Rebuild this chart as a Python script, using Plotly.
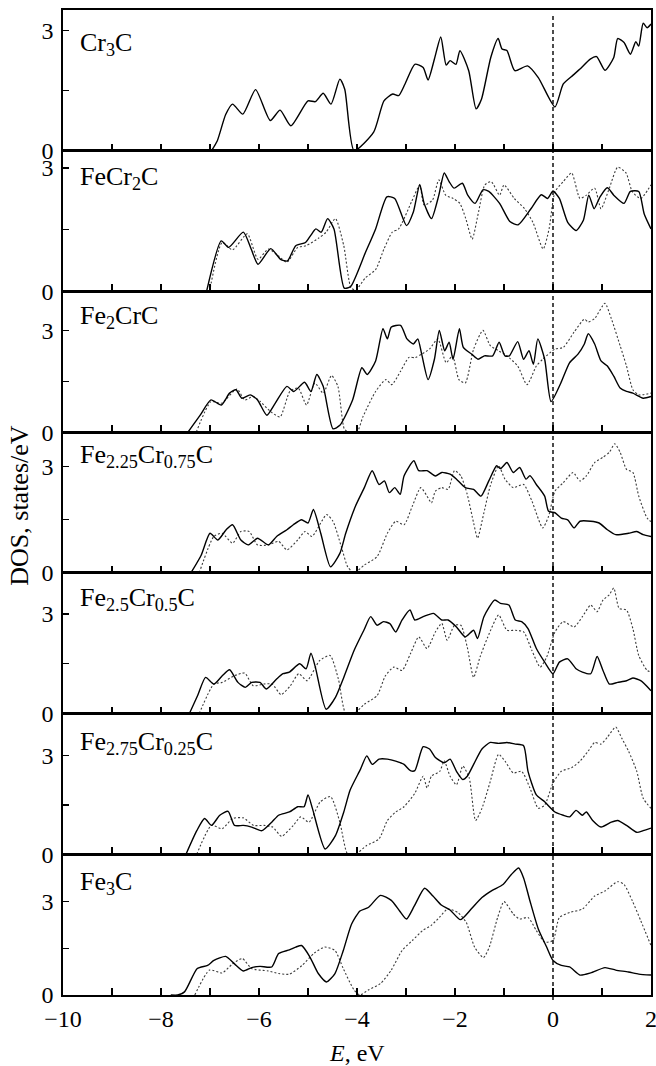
import plotly.graph_objects as go
from plotly.subplots import make_subplots

# ---------------- data ----------------
panel_names = ["Cr<sub>3</sub>C", "FeCr<sub>2</sub>C", "Fe<sub>2</sub>CrC",
               "Fe<sub>2.25</sub>Cr<sub>0.75</sub>C", "Fe<sub>2.5</sub>Cr<sub>0.5</sub>C",
               "Fe<sub>2.75</sub>Cr<sub>0.25</sub>C", "Fe<sub>3</sub>C"]

cr3c_E = [-6.97, -6.85, -6.68, -6.54, -6.33, -6.07, -5.77, -5.57, -5.35, -5.0, -4.85, -4.69, -4.53, -4.35, -4.25, -4.06,
          -3.66, -3.45, -3.27, -3.15, -3.02, -2.82, -2.65, -2.55, -2.42, -2.29, -2.18, -2.1, -1.98, -1.9, -1.72, -1.57,
          -1.46, -1.27, -1.12, -1.04, -0.94, -0.78, -0.52, -0.3, 0.04, 0.21, 0.41, 0.55, 0.76, 0.89, 1.06, 1.24, 1.32,
          1.45, 1.58, 1.69, 1.75, 1.84, 1.92, 2.0]
cr3c_D = [0, 0.25, 0.9, 1.16, 0.91, 1.52, 0.75, 1.01, 0.62, 1.24, 1.22, 1.43, 1.16, 1.78, 1.53, 0,
          0.46, 1.24, 1.41, 1.37, 1.66, 2.15, 2.07, 1.76, 2.28, 2.83, 2.13, 2.24, 2.15, 2.49, 1.99, 1.04,
          1.28, 2.32, 2.79, 2.53, 2.49, 1.99, 2.11, 1.82, 1.09, 1.66, 1.88, 2.03, 2.28, 2.34, 2.0, 2.32, 2.79,
          2.69, 2.4, 2.71, 2.6, 3.17, 3.06, 3.15]

fecr2c_E = [-7.07, -6.77, -6.62, -6.32, -6.16, -6.02, -5.76, -5.56, -5.42, -5.25, -5.05, -4.94, -4.84, -4.73, -4.6,
            -4.47, -4.26, -4.13, -3.83, -3.62, -3.39, -3.23, -2.99, -2.85, -2.72, -2.63, -2.48, -2.33, -2.22, -2.12,
            -2.02, -1.85, -1.74, -1.59, -1.43, -1.31, -1.09, -0.88, -0.71, -0.45, -0.24, -0.11, 0.0, 0.13, 0.3, 0.47,
            0.62, 0.73, 0.84, 0.96, 1.11, 1.24, 1.45, 1.58, 1.75, 1.86, 2.0]
fecr2c_D = [0, 1.23, 1.07, 1.44, 1.03, 0.66, 1.04, 0.78, 0.74, 1.11, 1.19, 1.37, 1.52, 1.44, 1.77,
            1.52, 0.08, 0.12, 0.94, 1.52, 2.30, 2.26, 1.6, 1.93, 2.6, 2.14, 1.77, 2.34, 2.88, 2.67,
            2.51, 2.63, 2.34, 2.14, 2.47, 2.43, 2.14, 1.7, 1.62, 2.01, 2.35, 2.26, 2.44, 2.26, 1.68, 1.48,
            1.73, 2.34, 2.01, 2.30, 2.52, 2.34, 2.14, 2.43, 2.43, 1.89, 1.52]
fecr2c_dot_E = [-7.01, -6.75, -6.54, -6.24, -6.02, -5.81, -5.6, -5.43, -5.21, -5.04, -4.79, -4.63, -4.44, -4.27, -4.12,
                -4.02, -3.83, -3.62, -3.45, -3.28, -3.15, -2.89, -2.72, -2.63, -2.46, -2.33, -2.19, -2.04, -1.9, -1.78,
                -1.65, -1.52, -1.39, -1.26, -1.09, -1.0, -0.79, -0.58, -0.41, -0.2, -0.08, 0.04, 0.21, 0.38, 0.55,
                0.68, 0.85, 0.98, 1.15, 1.32, 1.49, 1.62, 1.79, 2.0]
fecr2c_dot_D = [0, 1.19, 1.01, 1.4, 0.78, 1.03, 0.86, 0.71, 1.07, 1.11, 1.29, 1.44, 1.77, 1.11, 0.08,
                0.04, 0.33, 0.53, 1.03, 1.44, 1.52, 2.17, 2.58, 2.1, 2.22, 2.71, 2.34, 2.26, 2.14, 1.77,
                1.27, 1.93, 2.59, 2.67, 2.34, 2.59, 2.26, 2.01, 1.68, 1.03, 1.52, 2.42, 2.67, 2.88, 2.26,
                2.34, 2.51, 2.01, 2.51, 3.02, 2.88, 2.42, 2.26, 2.59]

fe2crc_E = [-7.45, -7.2, -6.98, -6.77, -6.6, -6.47, -6.35, -6.18, -6.03, -5.84, -5.67, -5.43, -5.29, -5.07, -4.94,
            -4.82, -4.69, -4.49, -4.35, -4.09, -3.9, -3.79, -3.62, -3.47, -3.38, -3.3, -3.11, -2.98, -2.85, -2.76,
            -2.68, -2.55, -2.42, -2.32, -2.21, -2.12, -2.04, -1.91, -1.83, -1.66, -1.53, -1.4, -1.23, -1.1, -0.98,
            -0.89, -0.72, -0.6, -0.49, -0.4, -0.31, -0.17, -0.04, 0.16, 0.34, 0.51, 0.64, 0.72, 0.85, 0.98,
            1.11, 1.24, 1.37, 1.5, 1.63, 1.84, 2.0]
fe2crc_D = [0, 0.5, 0.95, 0.8, 1.15, 1.25, 1.0, 1.1, 0.95, 0.5, 0.85, 1.35, 1.2, 1.47, 1.2,
            1.7, 1.35, 0.1, 0.2, 0.95, 1.9, 1.7, 2.1, 3.05, 2.75, 3.1, 3.15, 2.75, 2.6, 2.75,
            2.3, 1.55, 2.15, 3.0, 2.4, 2.65, 2.15, 3.05, 2.5, 2.3, 2.15, 2.25, 2.25, 2.65, 2.25,
            2.25, 2.67, 2.15, 2.4, 2.0, 2.75, 2.15, 0.9, 1.45, 2.05, 2.3, 2.6, 2.9, 2.6, 2.1,
            1.95, 1.65, 1.3, 1.2, 1.15, 1.0, 1.05]
fe2crc_dot_E = [-7.28, -6.98, -6.77, -6.45, -6.29, -6.12, -5.97, -5.76, -5.57, -5.37, -5.2, -5.03, -4.86, -4.69, -4.52,
                -4.39, -4.26, -4.17, -4.0, -3.88, -3.62, -3.41, -3.29, -3.11, -2.94, -2.81, -2.68, -2.52, -2.35, -2.18,
                -2.05, -1.92, -1.79, -1.62, -1.43, -1.28, -1.11, -0.94, -0.72, -0.53, -0.34, -0.21, 0.04, 0.21, 0.43,
                0.64, 0.72, 0.85, 1.06, 1.19, 1.37, 1.5, 1.63, 1.75, 2.0]
fe2crc_dot_D = [0, 0.9, 0.85, 1.27, 0.95, 1.05, 0.9, 0.6, 0.45, 1.2, 1.3, 0.8, 1.45, 1.15, 1.67,
                1.35, 0.1, 0, 0, 0.45, 1.2, 1.55, 1.4, 1.8, 2.2, 2.2, 2.3, 2.45, 2.75, 2.05,
                2.25, 1.55, 1.45, 2.45, 3.0, 2.55, 2.4, 2.25, 1.95, 1.4, 1.95, 2.15, 2.45, 2.5, 2.95,
                3.33, 3.25, 3.35, 3.8, 3.35, 2.55, 1.95, 1.25, 1.1, 1.15]

fe225_E = [-7.39, -7.18, -7.0, -6.84, -6.67, -6.54, -6.37, -6.22, -6.03, -5.81, -5.64, -5.43, -5.3, -5.13, -5.0,
           -4.89, -4.74, -4.54, -4.35, -4.23, -4.03, -3.85, -3.69, -3.55, -3.44, -3.34, -3.23, -3.12, -3.04, -2.84,
           -2.74, -2.57, -2.4, -2.27, -2.1, -1.97, -1.79, -1.62, -1.47, -1.31, -1.15, -1.07, -0.94, -0.81, -0.68,
           -0.55, -0.47, -0.34, -0.17, -0.09, 0.04, 0.17, 0.3, 0.43, 0.55, 0.77, 0.94, 1.11, 1.28, 1.54,
           1.71, 1.84, 2.0]
fe225_D = [0, 0.5, 1.12, 0.93, 1.22, 1.36, 0.93, 0.79, 0.98, 0.79, 1.03, 1.22, 1.36, 1.5, 1.41,
           1.79, 1.12, 0.17, 0.55, 1.12, 1.89, 2.41, 2.89, 2.5, 2.6, 2.27, 2.41, 2.22, 2.74, 3.17,
           2.89, 2.89, 2.74, 2.84, 2.79, 2.65, 2.41, 2.36, 2.17, 2.6, 3.03, 2.95, 3.12, 2.84, 2.98,
           2.65, 2.75, 2.5, 2.17, 1.74, 1.7, 1.55, 1.5, 1.27, 1.46, 1.46, 1.41, 1.22, 1.08, 1.12,
           1.17, 1.08, 1.03]
fe225_dot_E = [-7.22, -6.92, -6.75, -6.54, -6.37, -6.2, -6.03, -5.81, -5.6, -5.43, -5.21, -5.06, -4.92, -4.72, -4.62,
               -4.49, -4.32, -4.19, -4.06, -3.85, -3.59, -3.38, -3.21, -3.04, -2.87, -2.7, -2.57, -2.48, -2.4, -2.27,
               -2.14, -2.01, -1.88, -1.75, -1.62, -1.54, -1.41, -1.28, -1.11, -0.98, -0.81, -0.6, -0.43, -0.21, -0.09,
               0.04, 0.21, 0.41, 0.55, 0.68, 0.85, 1.02, 1.15, 1.26, 1.37, 1.5, 1.63, 1.75, 1.92, 2.0]
fe225_dot_D = [0, 1.03, 1.12, 0.84, 1.17, 1.17, 0.79, 0.79, 0.89, 0.65, 0.93, 1.17, 1.03, 1.46, 1.65,
               1.46, 0.74, 0.17, 0, 0.22, 0.46, 1.12, 1.46, 1.36, 1.89, 2.41, 2.17, 1.98, 2.31, 2.41,
               2.36, 2.89, 2.74, 2.22, 1.41, 0.98, 1.7, 2.46, 3.03, 2.65, 2.41, 2.5, 2.03, 1.27, 1.6,
               2.31, 2.55, 2.84, 2.6, 2.74, 3.12, 3.27, 3.41, 3.65, 3.41, 2.93, 2.84, 2.17, 1.55, 1.45]

fe25_E = [-7.42, -7.25, -7.09, -6.92, -6.75, -6.6, -6.43, -6.28, -6.15, -5.98, -5.85, -5.64, -5.51, -5.38, -5.17,
          -5.04, -4.94, -4.85, -4.63, -4.44, -4.27, -4.06, -3.86, -3.72, -3.59, -3.46, -3.33, -3.21, -3.08, -2.92,
          -2.82, -2.65, -2.44, -2.27, -2.14, -1.97, -1.79, -1.62, -1.54, -1.41, -1.19, -1.07, -0.9, -0.77, -0.64,
          -0.51, -0.34, -0.17, 0.0, 0.13, 0.3, 0.47, 0.6, 0.77, 0.9, 1.02, 1.15, 1.32, 1.5, 1.63,
          1.79, 2.0]
fe25_D = [0, 0.55, 1.09, 0.89, 1.14, 1.32, 0.94, 0.79, 0.94, 0.94, 0.74, 1.04, 1.2, 1.25, 1.5,
          1.35, 1.82, 1.4, 0.13, 0.49, 1.09, 1.9, 2.51, 2.92, 2.66, 2.77, 2.71, 2.46, 2.82, 3.12,
          2.82, 2.92, 3.02, 2.82, 2.82, 2.61, 2.31, 2.51, 2.26, 2.92, 3.42, 3.32, 3.27, 2.82, 2.77,
          2.56, 1.96, 1.55, 1.2, 1.55, 1.65, 1.35, 1.25, 1.2, 1.72, 1.3, 0.89, 0.94, 0.99, 1.07,
          0.99, 0.69]
fe25_dot_E = [-7.22, -6.92, -6.75, -6.5, -6.29, -6.12, -5.9, -5.73, -5.55, -5.36, -5.19, -5.02, -4.76, -4.55, -4.38,
              -4.23, -4.06, -3.85, -3.59, -3.42, -3.25, -3.08, -2.91, -2.74, -2.57, -2.4, -2.27, -2.16, -2.01, -1.88,
              -1.75, -1.62, -1.49, -1.33, -1.11, -0.94, -0.77, -0.6, -0.43, -0.26, -0.13, 0.04, 0.21, 0.43, 0.6,
              0.77, 0.9, 1.02, 1.15, 1.24, 1.35, 1.5, 1.63, 1.75, 1.92, 2.0]
fe25_dot_D = [0, 0.89, 0.94, 1.14, 1.22, 0.84, 0.89, 0.89, 0.57, 0.84, 1.2, 0.99, 1.6, 1.75, 1.04,
              0, 0, 0.28, 0.54, 1.14, 1.4, 1.3, 1.8, 2.31, 1.96, 2.46, 2.72, 2.21, 2.66, 2.66,
              2.0, 1.09, 1.7, 2.31, 2.97, 2.51, 2.51, 2.46, 1.9, 1.4, 1.7, 2.46, 2.77, 2.61, 2.92,
              3.27, 3.07, 3.42, 3.58, 3.78, 3.17, 3.12, 2.56, 1.75, 1.3, 1.25]

fe275_E = [-7.49, -7.27, -7.11, -6.97, -6.8, -6.63, -6.5, -6.32, -6.15, -5.94, -5.74, -5.6, -5.38, -5.21, -5.08,
           -5.0, -4.91, -4.65, -4.44, -4.27, -4.14, -3.93, -3.8, -3.69, -3.55, -3.38, -3.21, -3.04, -2.91, -2.82,
           -2.65, -2.52, -2.4, -2.22, -2.1, -1.97, -1.84, -1.75, -1.62, -1.45, -1.28, -1.11, -0.94, -0.77, -0.6,
           -0.51, -0.34, -0.17, 0.04, 0.21, 0.34, 0.47, 0.6, 0.68, 0.81, 0.98, 1.19, 1.32, 1.5, 1.71,
           1.84, 2.0]
fe275_D = [0, 0.72, 1.09, 0.88, 1.19, 1.31, 0.88, 0.88, 0.83, 0.72, 0.98, 1.19, 1.29, 1.45, 1.45,
           1.81, 1.4, 0.16, 0.57, 1.29, 1.96, 2.59, 3.0, 2.74, 2.9, 2.9, 2.84, 2.74, 2.55, 2.55,
           3.28, 3.21, 2.95, 2.79, 2.9, 2.53, 2.28, 2.38, 2.74, 3.21, 3.41, 3.38, 3.41, 3.36, 3.31,
           2.53, 1.81, 1.6, 1.29, 1.19, 1.14, 1.34, 1.19, 1.29, 1.03, 0.83, 0.98, 1.03, 0.88, 0.67,
           0.72, 0.8]
fe275_dot_E = [-7.27, -6.97, -6.75, -6.54, -6.32, -6.11, -5.9, -5.72, -5.54, -5.3, -5.15, -4.98, -4.75, -4.54, -4.35,
               -4.19, -4.03, -3.81, -3.55, -3.38, -3.21, -3.04, -2.82, -2.65, -2.57, -2.48, -2.31, -2.22, -2.1, -1.97,
               -1.84, -1.71, -1.58, -1.45, -1.28, -1.11, -0.98, -0.81, -0.64, -0.47, -0.3, -0.17, 0.0, 0.17, 0.38,
               0.55, 0.72, 0.85, 0.98, 1.11, 1.28, 1.41, 1.54, 1.71, 1.84, 2.0]
fe275_dot_D = [0, 0.88, 0.78, 1.09, 1.11, 0.88, 0.88, 0.83, 0.55, 0.88, 1.14, 0.98, 1.6, 1.76, 0.98,
               0, 0, 0.26, 0.47, 1.03, 1.29, 1.45, 1.86, 2.38, 2.02, 2.38, 2.53, 2.85, 2.38, 2.12,
               2.69, 2.33, 1.03, 1.4, 2.22, 3.05, 2.84, 2.48, 2.53, 2.02, 1.4, 1.5, 2.17, 2.53, 2.64,
               2.84, 3.15, 3.41, 3.36, 3.57, 3.88, 3.52, 3.15, 2.53, 1.71, 1.4]

fe3c_E = [-7.8, -7.66, -7.52, -7.26, -7.05, -6.92, -6.68, -6.5, -6.32, -6.15, -5.98, -5.74, -5.6, -5.38, -5.25, -5.13,
          -4.96, -4.79, -4.62, -4.45, -4.28, -4.11, -3.94, -3.77, -3.52, -3.3, -3.13, -2.99, -2.83, -2.62, -2.45,
          -2.28, -2.1, -1.89, -1.67, -1.45, -1.24, -1.02, -0.85, -0.7, -0.6, -0.47, -0.3, -0.13, 0.0, 0.17,
          0.34, 0.55, 0.77, 1.06, 1.28, 1.54, 1.75, 2.0]
fe3c_D = [0, 0, 0.1, 0.85, 0.95, 1.11, 1.24, 1.0, 0.77, 0.88, 0.92, 0.9, 1.33, 1.45, 1.54, 1.59,
          1.22, 0.69, 0.42, 0.69, 1.43, 2.28, 2.7, 2.81, 3.2, 3.04, 2.7, 2.44, 2.86, 3.43, 3.18,
          2.89, 2.73, 2.42, 2.76, 3.13, 3.36, 3.55, 3.87, 4.08, 3.76, 3.02, 2.12, 1.54, 1.11, 0.95,
          0.9, 0.64, 0.71, 0.88, 0.8, 0.74, 0.67, 0.64]
fe3c_dot_E = [-7.31, -7.01, -6.75, -6.54, -6.34, -6.15, -5.81, -5.6, -5.38, -5.12, -4.87, -4.66, -4.45, -4.28, -4.06,
              -3.94, -3.77, -3.52, -3.3, -3.08, -2.87, -2.66, -2.49, -2.32, -2.15, -1.94, -1.77, -1.6, -1.42, -1.3,
              -1.13, -1.0, -0.81, -0.68, -0.51, -0.34, -0.17, 0.0, 0.13, 0.34, 0.6, 0.85, 1.06, 1.32, 1.45,
              1.62, 1.79, 2.0]
fe3c_dot_D = [0, 0.8, 0.71, 1.0, 1.17, 0.85, 0.77, 0.69, 0.67, 0.95, 1.35, 1.54, 1.43, 0.85, 0.16,
              0, 0.16, 0.37, 0.8, 1.43, 1.75, 2.07, 2.23, 2.49, 2.76, 2.65, 2.33, 1.54, 1.2, 1.54,
              2.49, 3.0, 2.6, 2.44, 2.49, 2.07, 1.7, 1.75, 2.49, 2.65, 2.76, 3.18, 3.34, 3.64, 3.55,
              3.02, 2.39, 1.59]

y_max = [3.5, 3.42, 4.15, 3.98, 4.24, 4.29, 4.52]
x_tick_vals = list(range(-10, 3))
x_tick_text = ["\u221210", "", "\u22128", "", "\u22126", "", "\u22124", "", "\u22122", "", "0", "", "2"]
y_tick_vals = [0, 1.5, 3]
y_tick_text = ["0", "", "3"]

solid = [(cr3c_E, cr3c_D), (fecr2c_E, fecr2c_D), (fe2crc_E, fe2crc_D), (fe225_E, fe225_D),
         (fe25_E, fe25_D), (fe275_E, fe275_D), (fe3c_E, fe3c_D)]
dotted = [None, (fecr2c_dot_E, fecr2c_dot_D), (fe2crc_dot_E, fe2crc_dot_D), (fe225_dot_E, fe225_dot_D),
          (fe25_dot_E, fe25_dot_D), (fe275_dot_E, fe275_dot_D), (fe3c_dot_E, fe3c_dot_D)]

# ---------------- figure ----------------
FONT = "Liberation Serif"
fig = make_subplots(rows=7, cols=1, shared_xaxes=True, vertical_spacing=0)

for i in range(7):
    r = i + 1
    if dotted[i] is not None:
        fig.add_trace(go.Scatter(x=dotted[i][0], y=dotted[i][1], mode="lines",
                                 line=dict(color="#3a3a3a", width=1.1, dash="2px,2px", shape="spline", smoothing=0.6),
                                 showlegend=False, hoverinfo="skip"), row=r, col=1)
    fig.add_trace(go.Scatter(x=solid[i][0], y=solid[i][1], mode="lines",
                             line=dict(color="black", width=1.4, shape="spline", smoothing=0.6),
                             showlegend=False, hoverinfo="skip"), row=r, col=1)
    fig.update_yaxes(row=r, col=1, range=[0, y_max[i]], tickvals=y_tick_vals, ticktext=y_tick_text,
                     ticks="inside", ticklen=6, tickwidth=1.2, tickcolor="black",
                     showline=True, mirror=True, linecolor="black", linewidth=1.6,
                     showgrid=False, zeroline=False, ticklabelstandoff=3, automargin=False,
                     tickfont=dict(family=FONT, size=24, color="black"))
    fig.update_xaxes(row=r, col=1, range=[-10, 2], tickvals=x_tick_vals, ticktext=x_tick_text,
                     ticks="inside", ticklen=7, tickwidth=1.2, tickcolor="black",
                     showline=True, mirror=True, linecolor="black", linewidth=1.6,
                     showgrid=False, zeroline=False, showticklabels=(r == 7), ticklabelstandoff=2,
                     ticklabeloverflow="allow", automargin=False,
                     tickfont=dict(family=FONT, size=24, color="black"))

label_off = [16, 9, 8, 6, 8, 11, 11]
for i in range(7):
    yref = "y domain" if i == 0 else f"y{i + 1} domain"
    fig.add_annotation(text=panel_names[i], xref="paper", yref=yref, x=0.0255, y=1 - label_off[i] / 140.7,
                       xanchor="left", yanchor="top", showarrow=False,
                       font=dict(family=FONT, size=26, color="black"))

fig.add_shape(type="line", xref="x7", yref="paper", x0=0, x1=0, y0=-0.005, y1=0.996,
              line=dict(color="black", width=1.4, dash="4px,3px"))

fig.add_annotation(text="<i>E</i>, eV", xref="paper", yref="paper", x=0.5, y=-0.059,
                   xanchor="center", yanchor="middle", showarrow=False,
                   font=dict(family=FONT, size=24, color="black"))
fig.add_annotation(text="DOS, states/eV", xref="paper", yref="paper", x=-0.0735, y=0.4975,
                   xanchor="center", yanchor="middle", textangle=-90, showarrow=False,
                   font=dict(family=FONT, size=26, color="black"))

fig.update_layout(width=656, height=1066, margin=dict(l=63, r=5, t=10, b=71, autoexpand=False),
                  paper_bgcolor="white", plot_bgcolor="white")

fig.write_html("out.html", config={"displayModeBar": False, "staticPlot": True},
               post_script="document.body.style.margin='0px';document.body.style.padding='0px';")
